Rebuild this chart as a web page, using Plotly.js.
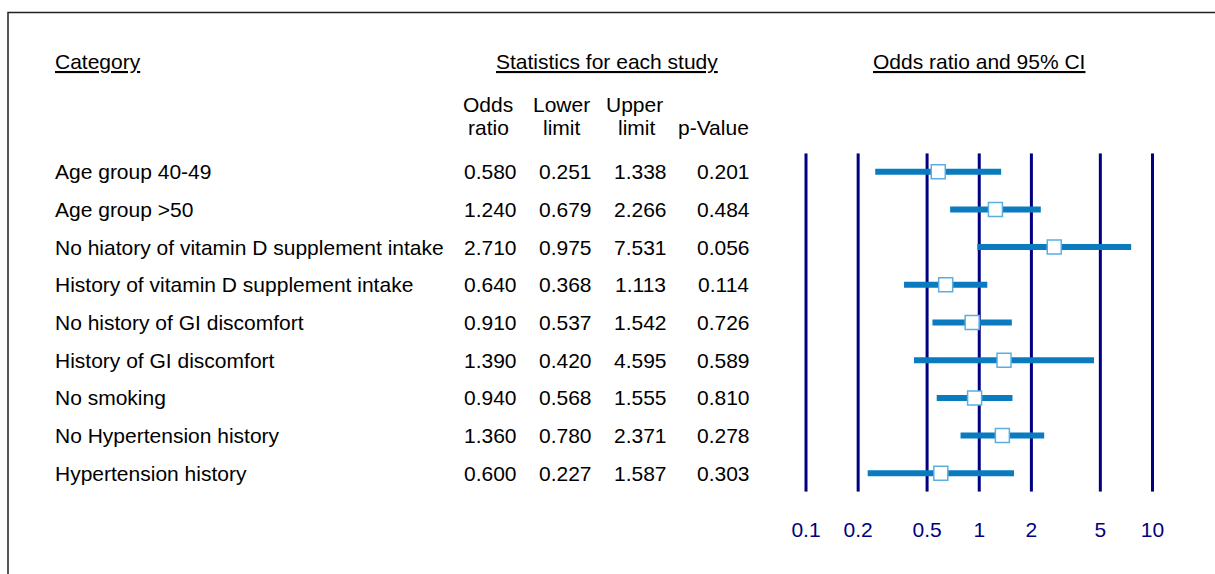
<!DOCTYPE html>
<html>
<head>
<meta charset="utf-8">
<script src="https://cdn.plot.ly/plotly-3.0.1.min.js"></script>
<style>html,body{margin:0;padding:0;background:#fff;}#chart{width:1215px;height:574px;}</style>
</head>
<body>
<div id="chart"></div>
<script>
// ---- data ----
const categories = [
  "Age group 40-49",
  "Age group >50",
  "No hiatory of vitamin D supplement intake",
  "History of vitamin D supplement intake",
  "No history of GI discomfort",
  "History of GI discomfort",
  "No smoking",
  "No Hypertension history",
  "Hypertension history"
];
const oddsRatio  = [0.580, 1.240, 2.710, 0.640, 0.910, 1.390, 0.940, 1.360, 0.600];
const lowerLimit = [0.251, 0.679, 0.975, 0.368, 0.537, 0.420, 0.568, 0.780, 0.227];
const upperLimit = [1.338, 2.266, 7.531, 1.113, 1.542, 4.595, 1.555, 2.371, 1.587];
const pValue     = [0.201, 0.484, 0.056, 0.114, 0.726, 0.589, 0.810, 0.278, 0.303];
const tickVals   = [0.1, 0.2, 0.5, 1, 2, 5, 10];
const tickLabels = ["0.1", "0.2", "0.5", "1", "2", "5", "10"];

// ---- layout helpers ----
const W = 1215, H = 574;
const px = x => x / W;
const py = y => 1 - y / H;
const FONT = "Liberation Sans, Arial, sans-serif";
const FS = 21;
const rows = categories.map((_, i) => i);
const yTop = -0.488, yBot = 8.488;

// reference vertical lines at each tick value
const vX = [], vY = [];
tickVals.forEach(t => { vX.push(t, t, null); vY.push(yTop, yBot, null); });

// CI segments
const ciX = [], ciY = [];
rows.forEach(i => { ciX.push(lowerLimit[i], upperLimit[i], null); ciY.push(i, i, null); });

const traces = [
  {type: "scatter", mode: "lines", x: vX, y: vY,
   line: {color: "#000080", width: 3}, hoverinfo: "skip", showlegend: false},
  {type: "scatter", mode: "lines", x: ciX, y: ciY,
   line: {color: "#0a7bbf", width: 6}, hoverinfo: "skip", showlegend: false},
  {type: "scatter", mode: "markers", x: oddsRatio, y: rows,
   marker: {symbol: "square", size: 14, color: "#ffffff", line: {color: "#5aafe0", width: 1.5}},
   showlegend: false}
];

const ann = [];
function txt(text, x, y, xanchor, yref, extra) {
  ann.push(Object.assign({
    text: text, x: x, y: y, xref: "paper", yref: yref || "paper",
    xanchor: xanchor || "center", yanchor: "middle", showarrow: false, borderpad: 0,
    font: {family: FONT, size: FS, color: "#000"}
  }, extra || {}));
}
const under = {family: FONT, size: FS, color: "#000", lineposition: "under"};
// headers
txt("Category", px(54), py(61), "left", "paper", {font: under});
txt("Statistics for each study", px(607), py(61), "center", "paper", {font: under});
txt("Odds ratio and 95% CI", px(979), py(61), "center", "paper", {font: under});
txt("Odds", px(488), py(104));
txt("ratio", px(488), py(128));
txt("Lower", px(561), py(104));
txt("limit", px(561), py(128));
txt("Upper", px(634), py(104));
txt("limit", px(636), py(128));
txt("p-Value", px(713), py(128));
// rows
rows.forEach(i => {
  txt(categories[i], px(54), i, "left", "y");
  txt(oddsRatio[i].toFixed(3), px(490), i, "center", "y");
  txt(lowerLimit[i].toFixed(3), px(565), i, "center", "y");
  txt(upperLimit[i].toFixed(3), px(640), i, "center", "y");
  txt(pValue[i].toFixed(3), px(723), i, "center", "y");
});

const pad = 0.03; // range padding (log units) so edge lines are not clipped
const dpx = pad * 173.25;
const layout = {
  width: W, height: H,
  margin: {l: 0, r: 0, t: 0, b: 0},
  paper_bgcolor: "#fff", plot_bgcolor: "rgba(0,0,0,0)",
  showlegend: false,
  xaxis: {
    type: "log", range: [-1 - pad, 1 + pad],
    domain: [px(806 - dpx), px(1152.5 + dpx)],
    tickvals: tickVals, ticktext: tickLabels,
    showgrid: false, zeroline: false, showline: false, ticks: "",
    tickfont: {family: FONT, size: 21, color: "#000080"},
    ticklabelstandoff: 23, fixedrange: true
  },
  yaxis: {
    range: [yBot, yTop],
    domain: [py(491.7), py(153.3)],
    visible: false, showgrid: false, zeroline: false, fixedrange: true
  },
  annotations: ann,
  shapes: [
    {type: "rect", xref: "paper", yref: "paper",
     x0: px(8), x1: 1.05, y0: -0.05, y1: py(12.5),
     line: {color: "#222", width: 1.5}, fillcolor: "rgba(0,0,0,0)", layer: "below"}
  ]
};

Plotly.newPlot("chart", traces, layout, {staticPlot: true, displayModeBar: false});
</script>
</body>
</html>
